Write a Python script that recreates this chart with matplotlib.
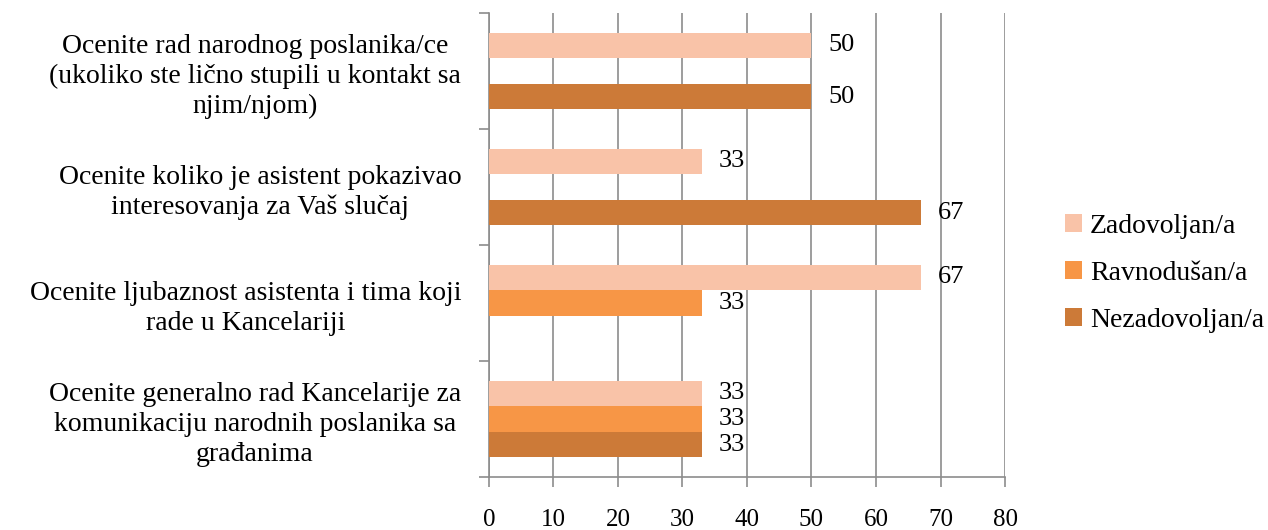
import numpy as np
import matplotlib.pyplot as plt

# podaci
categories = [
    "Ocenite generalno rad Kancelarije za\nkomunikaciju narodnih poslanika sa\ngrađanima",
    "Ocenite ljubaznost asistenta i tima koji\nrade u Kancelariji",
    "Ocenite koliko je asistent pokazivao\ninteresovanja za Vaš slučaj",
    "Ocenite rad narodnog poslanika/ce\n(ukoliko ste lično stupili u kontakt sa\nnjim/njom)",
]
series = ["Zadovoljan/a", "Ravnodušan/a", "Nezadovoljan/a"]
zadovoljan = [33, 67, 33, 50]
ravnodusan = [33, 33, 0, 0]
nezadovoljan = [33, 0, 67, 50]
xticks = [0, 10, 20, 30, 40, 50, 60, 70, 80]

colors = ["#F9C3A8", "#F79646", "#CC7A38"]
values = [zadovoljan, ravnodusan, nezadovoljan]

plt.rcParams['font.family'] = ['Liberation Serif', 'DejaVu Serif']

fig = plt.figure(figsize=(12.68, 5.3), dpi=100)
ax = fig.add_axes([0.3856, 0.1, 0.407, 0.8755])

y = np.arange(len(categories))
h = 0.22
offsets = [h, 0, -h]

for vals, col, off, name in zip(values, colors, offsets, series):
    bars = ax.barh(y + off, vals, height=h, color=col, linewidth=0, label=name, zorder=3)
    for b, v in zip(bars, vals):
        if v > 0:
            ax.text(v + 2.6, b.get_y() + b.get_height() / 2, str(v),
                    va='center', ha='left', fontsize=19, zorder=4)

ax.set_xlim(0, 80)
ax.set_ylim(-0.5, len(categories) - 0.5)
ax.set_xticks(xticks)
ax.set_xticklabels([str(t) for t in xticks], fontsize=18)
ax.set_yticks(y)
ax.set_yticklabels(categories, fontsize=20)
for lbl in ax.get_yticklabels():
    lbl.set_multialignment('center')
    lbl.set_linespacing(1.25)
ax.set_yticks(np.arange(-0.5, len(categories)), minor=True)

ax.grid(axis='x', color='#8C8C8C', linewidth=1.2, zorder=0)
for s in ['top', 'right']:
    ax.spines[s].set_visible(False)
for s in ['left', 'bottom']:
    ax.spines[s].set_color('#8C8C8C')
    ax.spines[s].set_linewidth(1.2)

ax.tick_params(axis='y', which='major', length=0, pad=20)
ax.tick_params(axis='y', which='minor', length=7, width=1.2, color='#8C8C8C')
ax.tick_params(axis='x', length=7, width=1.2, color='#8C8C8C', pad=16)

ax.legend(loc='center left', bbox_to_anchor=(1.116, 0.439), frameon=False,
          fontsize=20, handlelength=0.6, handleheight=0.6, handletextpad=0.3,
          labelspacing=0.8, borderpad=0, borderaxespad=0)

fig.savefig("out.png", dpi=100)
